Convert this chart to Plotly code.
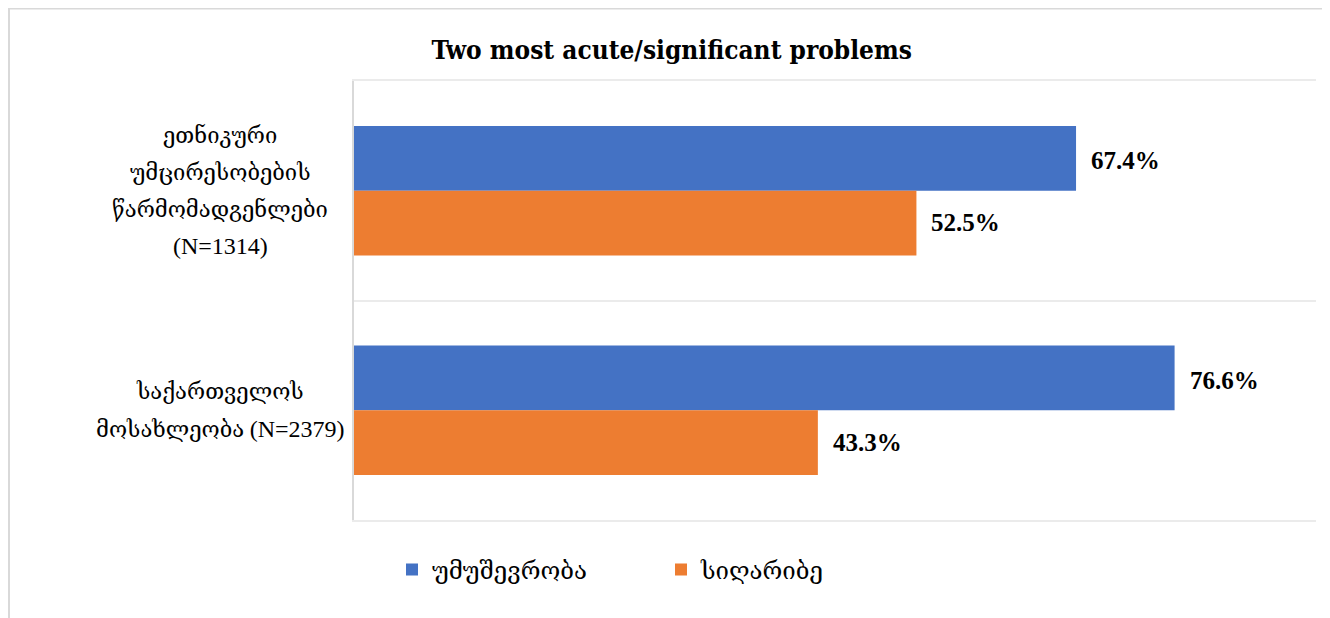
import plotly.graph_objects as go

# ---- data ----
categories = ["ethnic", "georgia"]
category_lines = [
    ["ეთნიკური", "უმცირესობების", "წარმომადგენლები", "(N=1314)"],
    ["საქართველოს", "მოსახლეობა (N=2379)"],
]
series_names = ["უმუშევრობა", "სიღარიბე"]
unemployment = [67.4, 76.6]
poverty = [52.5, 43.3]
title_text = "Two most acute/significant problems"

# ---- style ----
SERIF = "Liberation Serif, DejaVu Serif, serif"
DJ = "DejaVu Serif, serif"
blue = "#4472C4"
orange = "#ED7D31"

W, H = 1322, 610
ML, MR, MT, MB = 346, 14, 73, 98
PW, PH = W - ML - MR, H - MT - MB


def style_latin(line):
    # render the "(N=...)" part a little larger, as in the original
    if "(" in line:
        head, tail = line.split("(", 1)
        return head + "<span style=\"font-size:24px\">(" + tail + "</span>"
    return line


fig = go.Figure()
for name, vals, col in [(series_names[0], unemployment, blue), (series_names[1], poverty, orange)]:
    fig.add_trace(go.Bar(
        y=categories, x=vals, name=name, orientation="h",
        marker=dict(color=col, line=dict(width=0)),
    ))

annotations = []
for ti, vals in enumerate([unemployment, poverty]):
    for ci, v in enumerate(vals):
        annotations.append(dict(
            x=v, y=categories[ci], xref="x", yref="y",
            text=f"<b>{v:.1f}%</b>", showarrow=False,
            xanchor="left", yanchor="middle", xshift=13,
            yshift=(30 if ti == 0 else -32),
            font=dict(family=SERIF, size=25, color="#000000"),
        ))

# category labels, centred, one annotation per line
for ci, lines in enumerate(category_lines):
    n = len(lines)
    for li, line in enumerate(lines):
        annotations.append(dict(
            x=(212 - ML) / PW, y=categories[ci], xref="paper", yref="y",
            text=style_latin(line), showarrow=False, xanchor="center", yanchor="middle",
            yshift=((n - 1) / 2 - li) * 37,
            font=dict(family=SERIF, size=22, color="#000000"),
        ))

fig.update_layout(
    width=W, height=H,
    margin=dict(l=ML, r=MR, t=MT, b=MB),
    paper_bgcolor="white", plot_bgcolor="white",
    barmode="group", bargap=0.41, bargroupgap=0,
    title=dict(text=title_text, x=0.502, xref="container", xanchor="center",
               y=1 - 42 / H, yref="container", yanchor="middle",
               font=dict(family="DejaVu Serif Condensed, DejaVu Serif, serif", size=26,
                         color="#000000", weight="bold")),
    xaxis=dict(range=[0, 89.8], showgrid=False, zeroline=False, showticklabels=False,
               showline=True, mirror=True, linecolor="#ebebeb", linewidth=2,
               ticks="", fixedrange=True),
    yaxis=dict(autorange="reversed", type="category", tickson="boundaries",
               showgrid=True, gridcolor="#ebebeb", gridwidth=2,
               showticklabels=False, ticks="",
               showline=True, linecolor="#d9d9d9", linewidth=2),
    legend=dict(orientation="h", x=(384 - ML) / PW, xanchor="left",
                y=(MT + PH - 562) / PH, yanchor="middle",
                font=dict(family=DJ, size=24, color="#000000"),
                entrywidth=224, traceorder="normal"),
    annotations=annotations,
    shapes=[dict(type="rect", xref="paper", yref="paper",
                 x0=(1 - ML) / PW, x1=1.1, y0=-0.3, y1=1 + (MT - 0.5) / PH,
                 line=dict(color="#d9d9d9", width=2), fillcolor="rgba(0,0,0,0)", layer="below")],
)

fig.write_html("out.html")
